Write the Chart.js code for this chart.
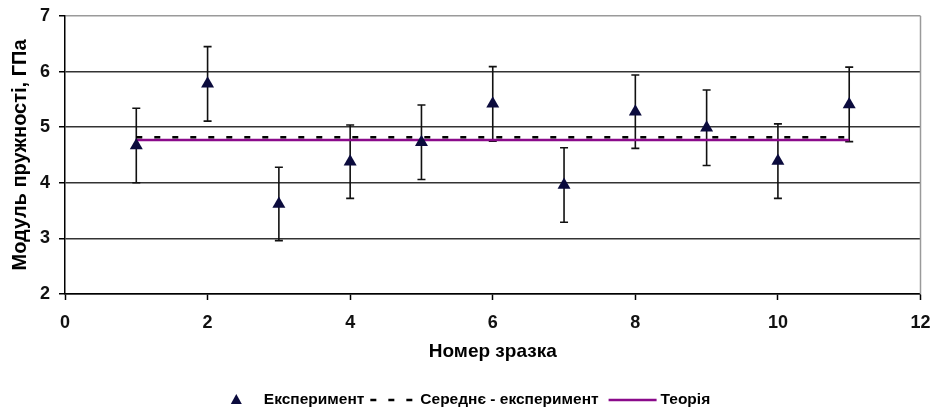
<!DOCTYPE html>
<html>
<head>
<meta charset="utf-8">
<script src="https://cdn.jsdelivr.net/npm/chart.js@4/dist/chart.umd.min.js"></script>
<style>
  html, body { margin: 0; padding: 0; background: #ffffff; }
  #wrap { width: 933px; height: 414px; position: relative; }
</style>
</head>
<body>
<div id="wrap"><canvas id="c" width="933" height="414"></canvas></div>
<script>
// Specimen numbers and measured elastic modulus (GPa) with error half-widths
const sampleNumbers   = [1, 2, 3, 4, 5, 6, 7, 8, 9, 10, 11];
const measuredModulus = [4.67, 5.78, 3.62, 4.38, 4.73, 5.42, 3.96, 5.28, 4.99, 4.39, 5.41];
const measuredError   = [0.67, 0.67, 0.66, 0.66, 0.67, 0.67, 0.67, 0.66, 0.68, 0.67, 0.67];
// Experimental mean and theoretical value (GPa)
const meanModulus   = 4.82;
const theoryModulus = 4.77;
// Axis ticks
const xTicks = [0, 2, 4, 6, 8, 10, 12];
const yTicks = [2, 3, 4, 5, 6, 7];
// Texts
const seriesNames = ['Експеримент', 'Середнє - експеримент', 'Теорія'];
const xTitle = 'Номер зразка';
const yTitle = 'Модуль пружності, ГПа';

const FONT = '"Liberation Sans", Arial, Helvetica, sans-serif';
const MARKER = '#0b0b3d';
const PURPLE = '#8a0a8a';

const firstX = sampleNumbers[0];
const lastX = sampleNumbers[sampleNumbers.length - 1];

// Vertical error bars with caps, drawn under the markers
const errorBars = {
  id: 'errorBars',
  beforeDatasetsDraw(chart) {
    const xs = chart.scales.x, ys = chart.scales.y, ctx = chart.ctx;
    ctx.save();
    ctx.strokeStyle = '#111';
    ctx.lineWidth = 1.6;
    sampleNumbers.forEach((n, i) => {
      const px = xs.getPixelForValue(n);
      const top = ys.getPixelForValue(measuredModulus[i] + measuredError[i]);
      const bot = ys.getPixelForValue(measuredModulus[i] - measuredError[i]);
      ctx.beginPath();
      ctx.moveTo(px, top); ctx.lineTo(px, bot);
      ctx.moveTo(px - 4, top); ctx.lineTo(px + 4, top);
      ctx.moveTo(px - 4, bot); ctx.lineTo(px + 4, bot);
      ctx.stroke();
    });
    ctx.restore();
  }
};

// Light grey frame on the right side of the plot area
const plotFrame = {
  id: 'plotFrame',
  beforeDatasetsDraw(chart) {
    const a = chart.chartArea, ctx = chart.ctx;
    ctx.save();
    ctx.strokeStyle = '#9a9a9a';
    ctx.lineWidth = 1.5;
    ctx.beginPath();
    ctx.moveTo(a.right, a.top);
    ctx.lineTo(a.right, a.bottom);
    ctx.stroke();
    ctx.restore();
  }
};

// Single-row legend under the axis title
const legendRow = {
  id: 'legendRow',
  afterDraw(chart) {
    const ctx = chart.ctx;
    const cy = 400;
    ctx.save();
    ctx.font = 'bold 15.5px ' + FONT;
    ctx.textBaseline = 'middle';
    ctx.textAlign = 'left';
    const w = seriesNames.map(s => ctx.measureText(s).width);
    const triW = 11, dashW = 42, lineW = 48;
    const total = triW + 22 + w[0] + 6 + dashW + 8 + w[1] + 10 + lineW + 4 + w[2];
    let x = (chart.width - total) / 2 + 4;

    // triangle marker
    ctx.fillStyle = MARKER;
    ctx.beginPath();
    ctx.moveTo(x + triW / 2, cy - 6);
    ctx.lineTo(x + triW, cy + 4);
    ctx.lineTo(x, cy + 4);
    ctx.closePath();
    ctx.fill();
    x += triW + 22;
    ctx.fillStyle = '#000';
    ctx.fillText(seriesNames[0], x, cy);
    x += w[0] + 6;

    // dashed sample
    ctx.strokeStyle = '#000';
    ctx.lineWidth = 2.5;
    ctx.setLineDash([6, 12]);
    ctx.beginPath();
    ctx.moveTo(x, cy); ctx.lineTo(x + dashW, cy);
    ctx.stroke();
    ctx.setLineDash([]);
    x += dashW + 8;
    ctx.fillText(seriesNames[1], x, cy);
    x += w[1] + 10;

    // solid purple sample
    ctx.strokeStyle = PURPLE;
    ctx.lineWidth = 2.5;
    ctx.beginPath();
    ctx.moveTo(x, cy); ctx.lineTo(x + lineW, cy);
    ctx.stroke();
    x += lineW + 4;
    ctx.fillText(seriesNames[2], x, cy);
    ctx.restore();
  }
};

new Chart(document.getElementById('c'), {
  type: 'scatter',
  data: {
    datasets: [
      {
        label: seriesNames[0],
        data: sampleNumbers.map((n, i) => ({ x: n, y: measuredModulus[i] })),
        pointStyle: 'triangle',
        radius: 7.5,
        backgroundColor: MARKER,
        borderColor: MARKER,
        borderWidth: 0,
        showLine: false,
        order: 0
      },
      {
        label: seriesNames[1],
        type: 'line',
        data: [{ x: firstX, y: meanModulus }, { x: lastX, y: meanModulus }],
        borderColor: '#000',
        borderWidth: 2.5,
        borderDash: [6, 12],
        pointRadius: 0,
        fill: false,
        order: 1
      },
      {
        label: seriesNames[2],
        type: 'line',
        data: [{ x: firstX, y: theoryModulus }, { x: lastX, y: theoryModulus }],
        borderColor: PURPLE,
        borderWidth: 2.5,
        pointRadius: 0,
        fill: false,
        order: 2
      }
    ]
  },
  options: {
    responsive: false,
    animation: false,
    devicePixelRatio: 1,
    layout: { padding: { top: 16, right: 12.5, bottom: 45, left: 0 } },
    plugins: {
      legend: { display: false },
      tooltip: { enabled: false }
    },
    scales: {
      x: {
        type: 'linear',
        min: xTicks[0],
        max: xTicks[xTicks.length - 1],
        afterBuildTicks(scale) { scale.ticks = xTicks.map(v => ({ value: v })); },
        afterFit(scale) {
          scale.height = 75;
          scale.paddingLeft = 0;
          scale.paddingRight = 0;
        },
        grid: { drawOnChartArea: false, drawTicks: true, tickLength: 6, tickColor: '#000', tickWidth: 1.5 },
        border: { color: '#000', width: 1.5 },
        ticks: { color: '#111', font: { family: FONT, size: 18, weight: 'bold' }, padding: 12, maxRotation: 0 },
        title: { display: true, text: xTitle, color: '#000', font: { family: FONT, size: 19, weight: 'bold' }, padding: { top: 0, bottom: 6 } }
      },
      y: {
        type: 'linear',
        min: yTicks[0],
        max: yTicks[yTicks.length - 1],
        afterBuildTicks(scale) { scale.ticks = yTicks.map(v => ({ value: v })); },
        afterFit(scale) {
          scale.width = 65;
          scale.paddingTop = 0;
          scale.paddingBottom = 0;
        },
        grid: {
          color: c => (c.tick && c.tick.value === yTicks[yTicks.length - 1]) ? '#9a9a9a' : '#333',
          lineWidth: 1.5,
          drawTicks: true,
          tickLength: 6,
          tickColor: '#000',
          tickWidth: 1.5
        },
        border: { color: '#000', width: 1.5 },
        ticks: { color: '#111', font: { family: FONT, size: 18, weight: 'bold' }, padding: 9 },
        title: { display: true, text: yTitle, color: '#000', font: { family: FONT, size: 20, weight: 'bold' }, padding: { top: 8, bottom: 0 } }
      }
    }
  },
  plugins: [errorBars, plotFrame, legendRow]
});
</script>
</body>
</html>
